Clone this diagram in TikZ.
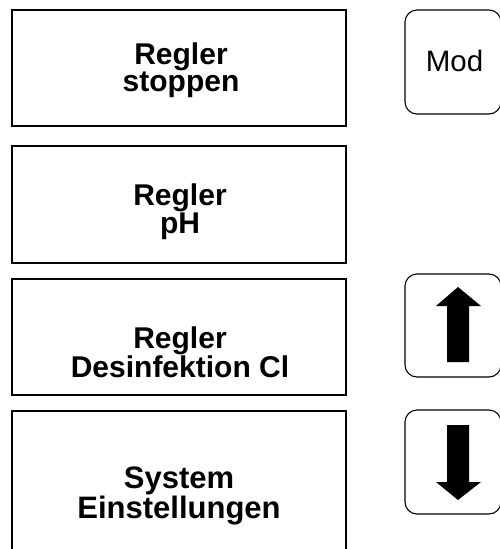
\documentclass[tikz,border=0pt]{standalone}
\usepackage{fontspec}
\setmainfont{Liberation Sans}
\begin{document}
\begin{tikzpicture}[x=1pt,y=-1pt,
  menubox/.style={draw, line width=1.6pt, minimum width=334pt, inner sep=0pt},
  keybox/.style={draw, line width=1.1pt, rounded corners=12pt, minimum width=96pt, inner sep=0pt},
  lbl/.style={align=center, anchor=base, inner sep=0pt},
  arrowfill/.style={fill=black, draw=none}
]
\useasboundingbox (0,0) rectangle (500,549);
% menu boxes
\node[menubox, minimum height=116pt] (b1) at (179,68) {};
\node[menubox, minimum height=117pt] (b2) at (179,204.5) {};
\node[menubox, minimum height=116pt] (b3) at (179,337) {};
\node[menubox, minimum height=154pt] (b4) at (179,488) {};
% labels (anchor base = baseline of last line)
\node[lbl, font=\bfseries\fontsize{30}{25.5}\selectfont] (t1) at (181,91.7) {Regler\\stoppen};
\node[lbl, font=\bfseries\fontsize{30}{25.5}\selectfont] (t2) at (180,233.3) {Regler\\pH};
\node[lbl, font=\bfseries\fontsize{30}{29}\selectfont] (t3) at (180,377.3) {Regler\\Desinfektion Cl};
\node[lbl, font=\bfseries\fontsize{31}{30}\selectfont] (t4) at (179,518.3) {System\\Einstellungen};
% key boxes
\node[keybox, minimum height=104pt] (k1) at (453,62) {};
\node[keybox, minimum height=103pt] (k2) at (453,325.5) {};
\node[keybox, minimum height=104pt] (k3) at (453,462) {};
\node[lbl, font=\fontsize{29.5}{30}\selectfont] (mod) at (454.5,71.7) {Mod};
% arrows
\fill[arrowfill] (447,362) -- (447,306) -- (436,306) -- (458,287) -- (481,306) -- (469,306) -- (469,362) -- cycle;
\fill[arrowfill] (447,425) -- (447,482) -- (436,482) -- (458,500) -- (481,482) -- (469,482) -- (469,425) -- cycle;
\end{tikzpicture}
\end{document}
